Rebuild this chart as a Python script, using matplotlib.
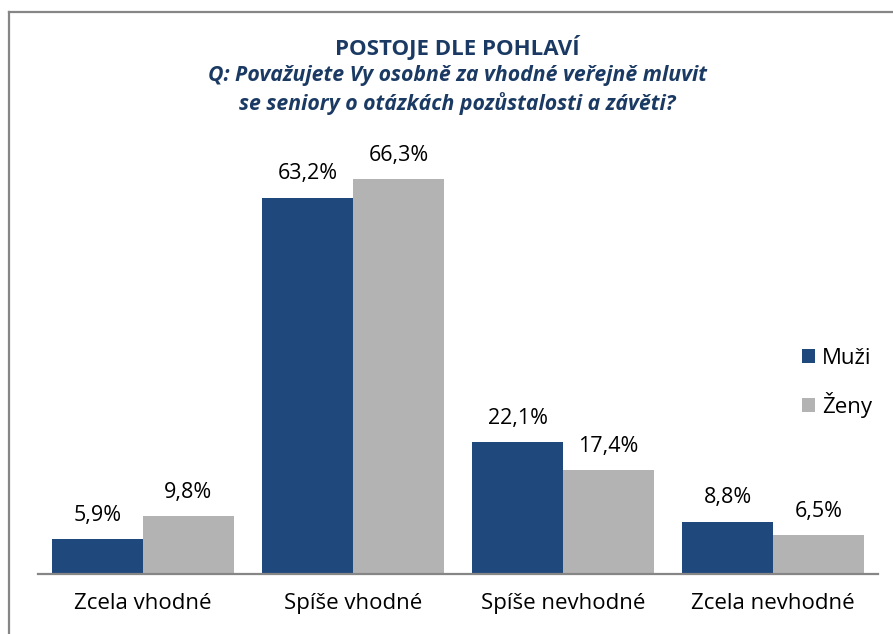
import numpy as np
import matplotlib.pyplot as plt

categories = ['Zcela vhodné', 'Spíše vhodné', 'Spíše nevhodné', 'Zcela nevhodné']
muzi = [5.9, 63.2, 22.1, 8.8]
zeny = [9.8, 66.3, 17.4, 6.5]
series_names = ['Muži', 'Ženy']

navy = '#1F487C'
grey = '#B3B3B3'
title_col = '#1B3A63'

plt.rcParams['font.family'] = ['Open Sans', 'DejaVu Sans']

fig = plt.figure(figsize=(8.93, 6.34), dpi=100)
ax = fig.add_axes([38 / 893, 60 / 634, 840 / 893, 417 / 634])

x = np.arange(len(categories))
w = 0.433
b1 = ax.bar(x - w / 2, muzi, w, color=navy, label=series_names[0])
b2 = ax.bar(x + w / 2, zeny, w, color=grey, label=series_names[1])

for bars, vals in ((b1, muzi), (b2, zeny)):
    for r, v in zip(bars, vals):
        ax.annotate(f'{v:.1f}%'.replace('.', ','),
                    (r.get_x() + r.get_width() / 2, r.get_height()),
                    xytext=(0, 17), textcoords='offset points',
                    ha='center', va='center', fontsize=15.5)

ax.set_xlim(-0.5, 3.5)
ax.set_ylim(0, 70)
ax.set_yticks([])
ax.set_xticks(x)
ax.set_xticklabels(categories, fontsize=16)
ax.tick_params(axis='x', length=0, pad=14)
for s in ['top', 'right', 'left']:
    ax.spines[s].set_visible(False)
ax.spines['bottom'].set_color('#868686')
ax.spines['bottom'].set_linewidth(1.6)

ax.legend(loc='center left', bbox_to_anchor=(802 / 893, 1 - 383 / 634),
          bbox_transform=fig.transFigure, frameon=False, fontsize=16,
          handlelength=0.6, handleheight=0.6, handletextpad=0.3,
          labelspacing=1.05, borderaxespad=0, borderpad=0)

fig.text(457 / 893, 1 - 47 / 634, 'POSTOJE DLE POHLAVÍ', ha='center', va='center',
         fontsize=16, fontweight='bold', color=title_col)
fig.text(457 / 893, 1 - 75 / 634, 'Q: Považujete Vy osobně za vhodné veřejně mluvit',
         ha='center', va='center', fontsize=15.3, fontweight='bold',
         fontstyle='italic', color=title_col)
fig.text(457 / 893, 1 - 104 / 634, 'se seniory o otázkách pozůstalosti a závěti?',
         ha='center', va='center', fontsize=15.3, fontweight='bold',
         fontstyle='italic', color=title_col)

# frame of the chart (only left and top edges visible in the crop)
fig.add_artist(plt.Line2D([8.5 / 893, 8.5 / 893], [0, 1 - 11.5 / 634],
                          transform=fig.transFigure, color='#868686', lw=1.6))
fig.add_artist(plt.Line2D([8.5 / 893, 1], [1 - 11.5 / 634, 1 - 11.5 / 634],
                          transform=fig.transFigure, color='#868686', lw=1.6))

fig.savefig('out.png', dpi=100)
